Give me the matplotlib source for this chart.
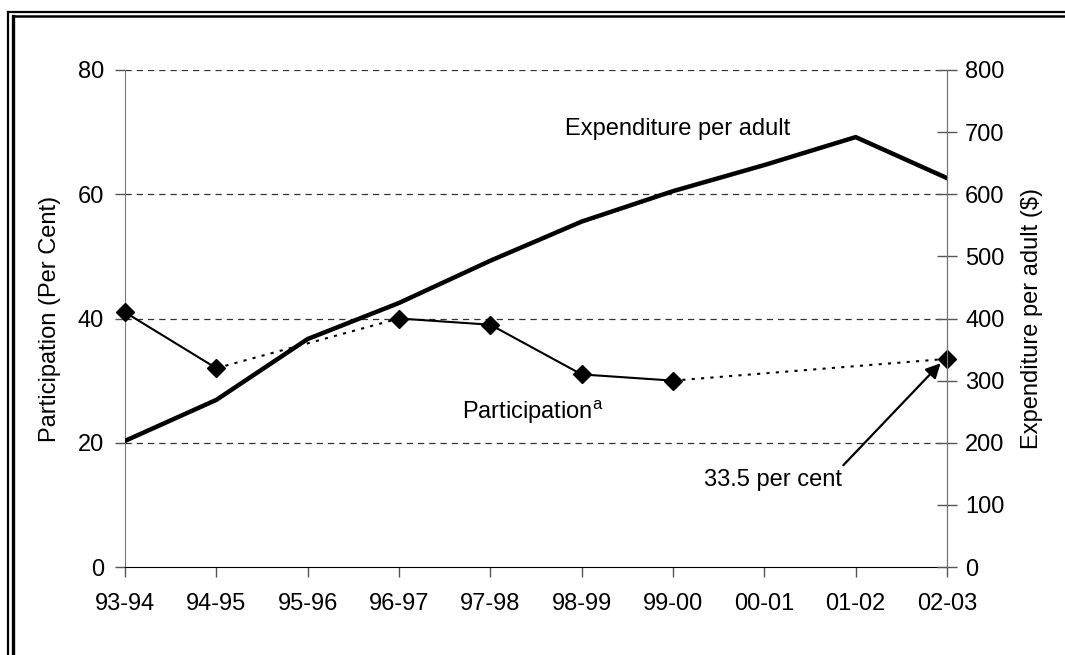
import matplotlib.pyplot as plt
from matplotlib.lines import Line2D
import numpy as np

plt.rcParams['font.family'] = ['Liberation Sans', 'DejaVu Sans']

years = ['93-94', '94-95', '95-96', '96-97', '97-98', '98-99', '99-00', '00-01', '01-02', '02-03']
expenditure = [203, 269, 367, 425, 493, 556, 605, 647, 692, 626]
# participation (per cent), None where no survey
participation = [41, 32, None, 40, 39, 31, 30, None, None, 33.5]

FS = 17

fig = plt.figure(figsize=(10.65, 6.55), dpi=100)
ax = fig.add_axes([125 / 1065, 1 - 567 / 655, 822 / 1065, 497 / 655])
ax2 = ax.twinx()

x = np.arange(len(years))

# participation: solid between consecutive surveys, dotted across gaps
pts = [(i, v) for i, v in enumerate(participation) if v is not None]
for (x0, y0), (x1, y1) in zip(pts[:-1], pts[1:]):
    ls = '-' if x1 - x0 == 1 else (0, (1.5, 3))
    ax.plot([x0, x1], [y0, y1], color='black', lw=1.5, ls=ls, zorder=3)
ax.plot([p[0] for p in pts], [p[1] for p in pts], ls='none', marker='D',
        ms=9.5, color='black', zorder=4, clip_on=False)

ax2.plot(x, expenditure, color='black', lw=3.2, solid_joinstyle='miter', zorder=3)

ax.set_xlim(0, len(years) - 1)
ax.set_ylim(0, 80)
ax2.set_ylim(0, 800)
ax.set_yticks([0, 20, 40, 60, 80])
ax2.set_yticks(range(0, 801, 100))
ax.set_xticks(x)
ax.set_xticklabels(years)

for a in (ax, ax2):
    a.spines['top'].set_visible(False)
    a.tick_params(labelsize=FS, length=7, width=1, color='#555555')
    a.set_facecolor('none')
ax.spines['left'].set_color('#777777')
ax2.spines['right'].set_color('#777777')
ax2.spines['left'].set_visible(False)
ax2.spines['bottom'].set_visible(False)
ax.tick_params(axis='x', pad=12, color='#555555')
ax.tick_params(axis='y', pad=8)
ax2.tick_params(axis='y', direction='inout', length=14, pad=6)

for g in [20, 40, 60, 80]:
    ax.axhline(g, color='#333333', lw=0.9, ls=(0, (5, 4)), zorder=1)

ax.set_ylabel('Participation (Per Cent)', fontsize=FS, labelpad=12)
ax2.set_ylabel('Expenditure per adult ($)', fontsize=FS, rotation=90, labelpad=12)

ax2.text(6.05, 705, 'Expenditure per adult', fontsize=FS, ha='center', va='center')
ax.text(4.47, 25.0, 'Participation$^{\\mathregular{a}}$', fontsize=FS, ha='center', va='center')
ax.annotate('33.5 per cent', xy=(8.93, 32.8), xytext=(7.1, 14.0),
            fontsize=FS, ha='center', va='center',
            arrowprops=dict(arrowstyle='-|>', color='black', lw=1.6,
                            mutation_scale=22, shrinkA=1, shrinkB=0,
                            relpos=(0.98, 1.0)))

# double frame around the figure
W, H = 1065, 655
fig.add_artist(Line2D([8 / W, 8 / W], [0, 1 - 12 / H], color='black', lw=1.6,
                      transform=fig.transFigure))
fig.add_artist(Line2D([8 / W, 1], [1 - 12 / H, 1 - 12 / H], color='black', lw=1.6,
                      transform=fig.transFigure))
fig.add_artist(Line2D([12.5 / W, 12.5 / W], [0, 1 - 16 / H], color='black', lw=2.4,
                      transform=fig.transFigure))
fig.add_artist(Line2D([12.5 / W, 1], [1 - 16 / H, 1 - 16 / H], color='black', lw=1.8,
                      transform=fig.transFigure))

fig.savefig('out.png', dpi=100)
